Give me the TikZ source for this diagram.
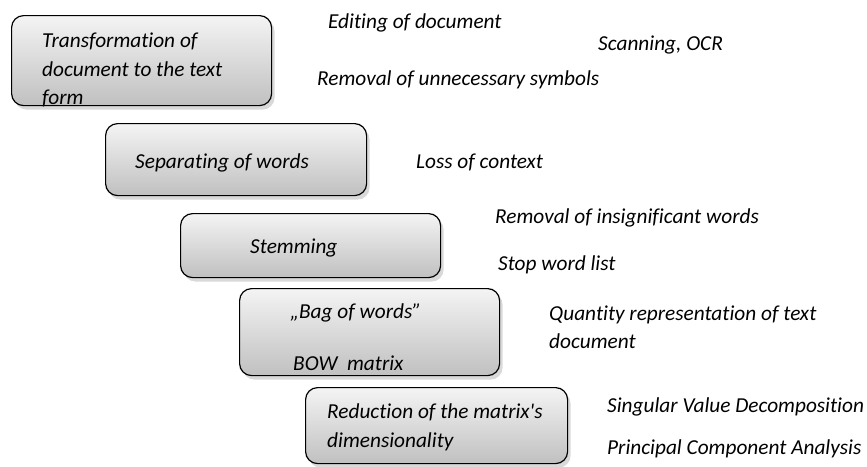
\documentclass[tikz,border=0pt]{standalone}
\usepackage{fontspec}
\setmainfont{Carlito}[Ligatures={TeXOff,CommonOff}]
\usetikzlibrary{shadows}
\definecolor{boxtop}{RGB}{244,244,244}
\definecolor{boxbot}{RGB}{192,192,192}
\begin{document}
\begin{tikzpicture}[x=1pt,y=-1pt,
  stepbox/.style={draw=black, line width=1.2pt, rounded corners=12pt,
    top color=boxtop, bottom color=boxbot, anchor=north west, inner sep=0pt,
    drop shadow={opacity=0.3, shadow xshift=3pt, shadow yshift=-4pt}},
  lbl/.style={anchor=west, inner sep=0pt, font=\fontsize{21.3}{28}\selectfont\itshape, align=left}]
\useasboundingbox (0,0) rectangle (867,466);
% boxes
\node[stepbox, minimum width=260pt, minimum height=90pt] (b1) at (11,15) {};
\node[stepbox, minimum width=261pt, minimum height=72pt] (b2) at (105,123) {};
\node[stepbox, minimum width=260pt, minimum height=64pt] (b3) at (180,213) {};
\node[stepbox, minimum width=260pt, minimum height=87pt] (b4) at (239,288) {};
\node[stepbox, minimum width=262pt, minimum height=76pt] (b5) at (305,387) {};
% box texts
\node[lbl] (t1a) at (42,41) {Transformation of};
\node[lbl] (t1b) at (42,69) {document to the text};
\node[lbl] (t1c) at (42,98) {form};
\node[lbl] (t2) at (135,163) {Separating of words};
\node[lbl] (t3) at (250,248) {Stemming};
\node[lbl] (t4a) at (290,313) {„Bag of words”};
\node[lbl] (t4b) at (293,363) {BOW\ \ matrix};
\node[lbl] (t5a) at (327,412) {Reduction of the matrix's};
\node[lbl] (t5b) at (327,442) {dimensionality};
% side texts
\node[lbl] (s1) at (328,23) {Editing of document};
\node[lbl] (s2) at (598,45) {Scanning, OCR};
\node[lbl] (s3) at (317,80) {Removal of unnecessary symbols};
\node[lbl] (s4) at (416,162) {Loss of context};
\node[lbl] (s5) at (495,218) {Removal of insignificant words};
\node[lbl] (s6) at (498,265) {Stop word list};
\node[lbl] (s7a) at (549,315) {Quantity representation of text};
\node[lbl] (s7b) at (549,341) {document};
\node[lbl] (s8) at (607,407) {Singular Value Decomposition};
\node[lbl] (s9) at (607,449) {Principal Component Analysis};
\end{tikzpicture}
\end{document}
